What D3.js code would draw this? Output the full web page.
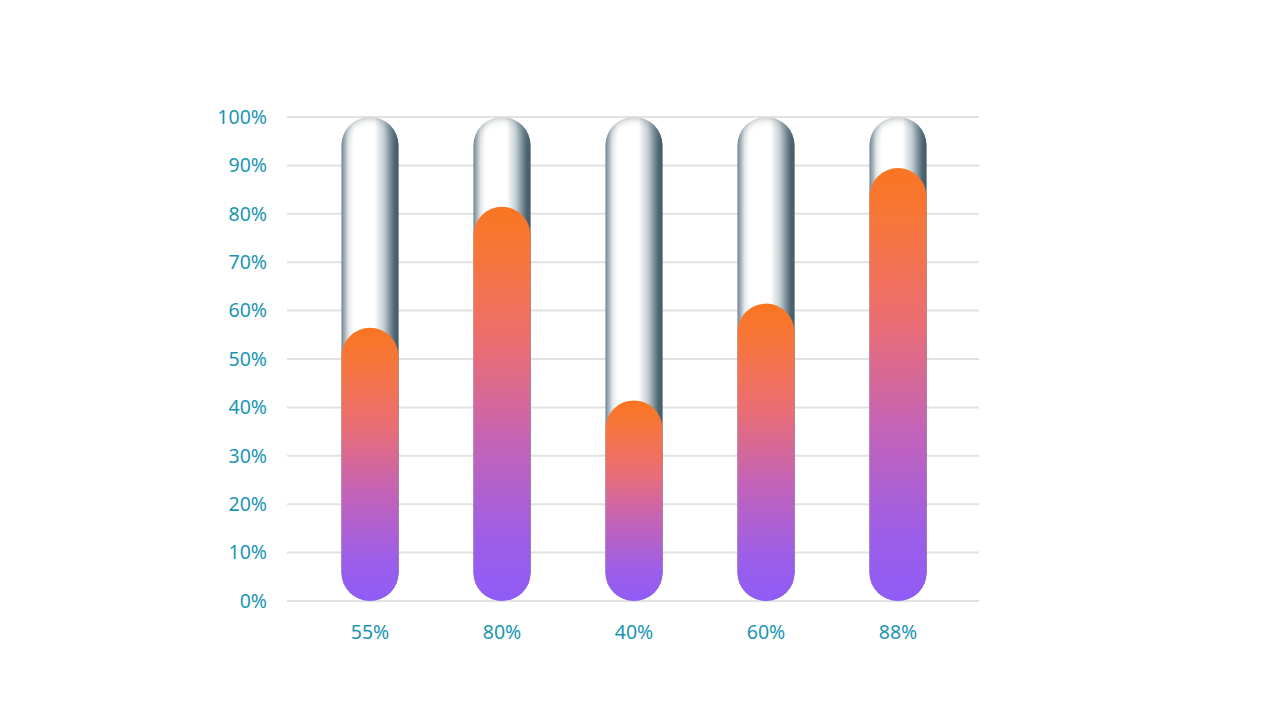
<!DOCTYPE html>
<html><head><meta charset="utf-8">
<script src="https://cdn.jsdelivr.net/npm/d3@7"></script>
<style>html,body{margin:0;padding:0;background:#fff;}svg{display:block;}</style>
</head><body>
<svg id="c" width="1280" height="720"></svg>
<script>
const categories = ["55%", "80%", "40%", "60%", "88%"];
const values = [55, 80, 40, 60, 88];
const yTicks = [0, 10, 20, 30, 40, 50, 60, 70, 80, 90, 100];

const svg = d3.select("#c");
const y = d3.scaleLinear().domain([0, 100]).range([601, 117]);
const x = d3.scaleBand().domain(categories).range([304, 964]).padding(0);
const barW = 57, capExtra = 7;
const textColor = "#1a96b3";
const font = "'Noto Sans', sans-serif";

const defs = svg.append("defs");
const bg = defs.append("linearGradient").attr("id", "bgGrad").attr("x1", 0).attr("x2", 1).attr("y1", 0).attr("y2", 0);
[[0, "#8193a0"], [0.12, "#e4e9ec"], [0.22, "#ffffff"], [0.58, "#ffffff"], [0.74, "#c5cfd4"], [0.88, "#6c818c"], [1, "#1c3a49"]]
  .forEach(s => bg.append("stop").attr("offset", s[0]).attr("stop-color", s[1]));
const fg = defs.append("linearGradient").attr("id", "fgGrad").attr("x1", 0).attr("x2", 0).attr("y1", 0).attr("y2", 1);
[[0, "#fa7520"], [0.12, "#f7763a"], [0.35, "#eb6e72"], [0.6, "#c463b7"], [0.85, "#9c5ee8"], [1, "#905cf6"]]
  .forEach(s => fg.append("stop").attr("offset", s[0]).attr("stop-color", s[1]));

// inner shadow filter for the tube
const f = defs.append("filter").attr("id", "inner").attr("x", "-20%").attr("y", "-20%").attr("width", "140%").attr("height", "140%");
f.append("feComponentTransfer").attr("in", "SourceAlpha").attr("result", "inv")
  .append("feFuncA").attr("type", "table").attr("tableValues", "1 0");
f.append("feGaussianBlur").attr("in", "inv").attr("stdDeviation", 4).attr("result", "blur");
f.append("feFlood").attr("flood-color", "#6a7e88").attr("flood-opacity", 0.9).attr("result", "col");
f.append("feComposite").attr("in", "col").attr("in2", "blur").attr("operator", "in").attr("result", "sh");
f.append("feComposite").attr("in", "sh").attr("in2", "SourceAlpha").attr("operator", "in").attr("result", "shIn");
const m = f.append("feMerge");
m.append("feMergeNode").attr("in", "SourceGraphic");
m.append("feMergeNode").attr("in", "shIn");

// gridlines
svg.append("g").selectAll("line").data(yTicks).join("line")
  .attr("x1", 287).attr("x2", 979)
  .attr("y1", d => y(d)).attr("y2", d => y(d))
  .attr("stroke", "#e2e2e2").attr("stroke-width", 2);

// y labels
svg.append("g").selectAll("text").data(yTicks).join("text")
  .attr("x", 267).attr("y", d => y(d)).attr("dy", "0.35em")
  .attr("text-anchor", "end").attr("fill", textColor)
  .attr("font-family", font).attr("font-size", 19.5)
  .text(d => d + "%");

// x labels
svg.append("g").selectAll("text").data(categories).join("text")
  .attr("x", d => x(d) + x.bandwidth() / 2).attr("y", 632).attr("dy", "0.35em")
  .attr("text-anchor", "middle").attr("fill", textColor)
  .attr("font-family", font).attr("font-size", 19.5)
  .text(d => d);

const g = svg.append("g");
const cx = i => x(categories[i]) + x.bandwidth() / 2;

// background tubes
g.selectAll("rect.bg").data(values).join("rect").attr("class", "bg")
  .attr("x", (d, i) => cx(i) - barW / 2).attr("width", barW)
  .attr("y", y(100)).attr("height", y(0) - y(100))
  .attr("rx", barW / 2).attr("fill", "url(#bgGrad)")
  .attr("filter", "url(#inner)");

// value fills
g.selectAll("rect.fg").data(values).join("rect").attr("class", "fg")
  .attr("x", (d, i) => cx(i) - barW / 2).attr("width", barW)
  .attr("y", d => y(d) - capExtra).attr("height", d => y(0) - y(d) + capExtra)
  .attr("rx", barW / 2).attr("fill", "url(#fgGrad)");
</script>
</body></html>
